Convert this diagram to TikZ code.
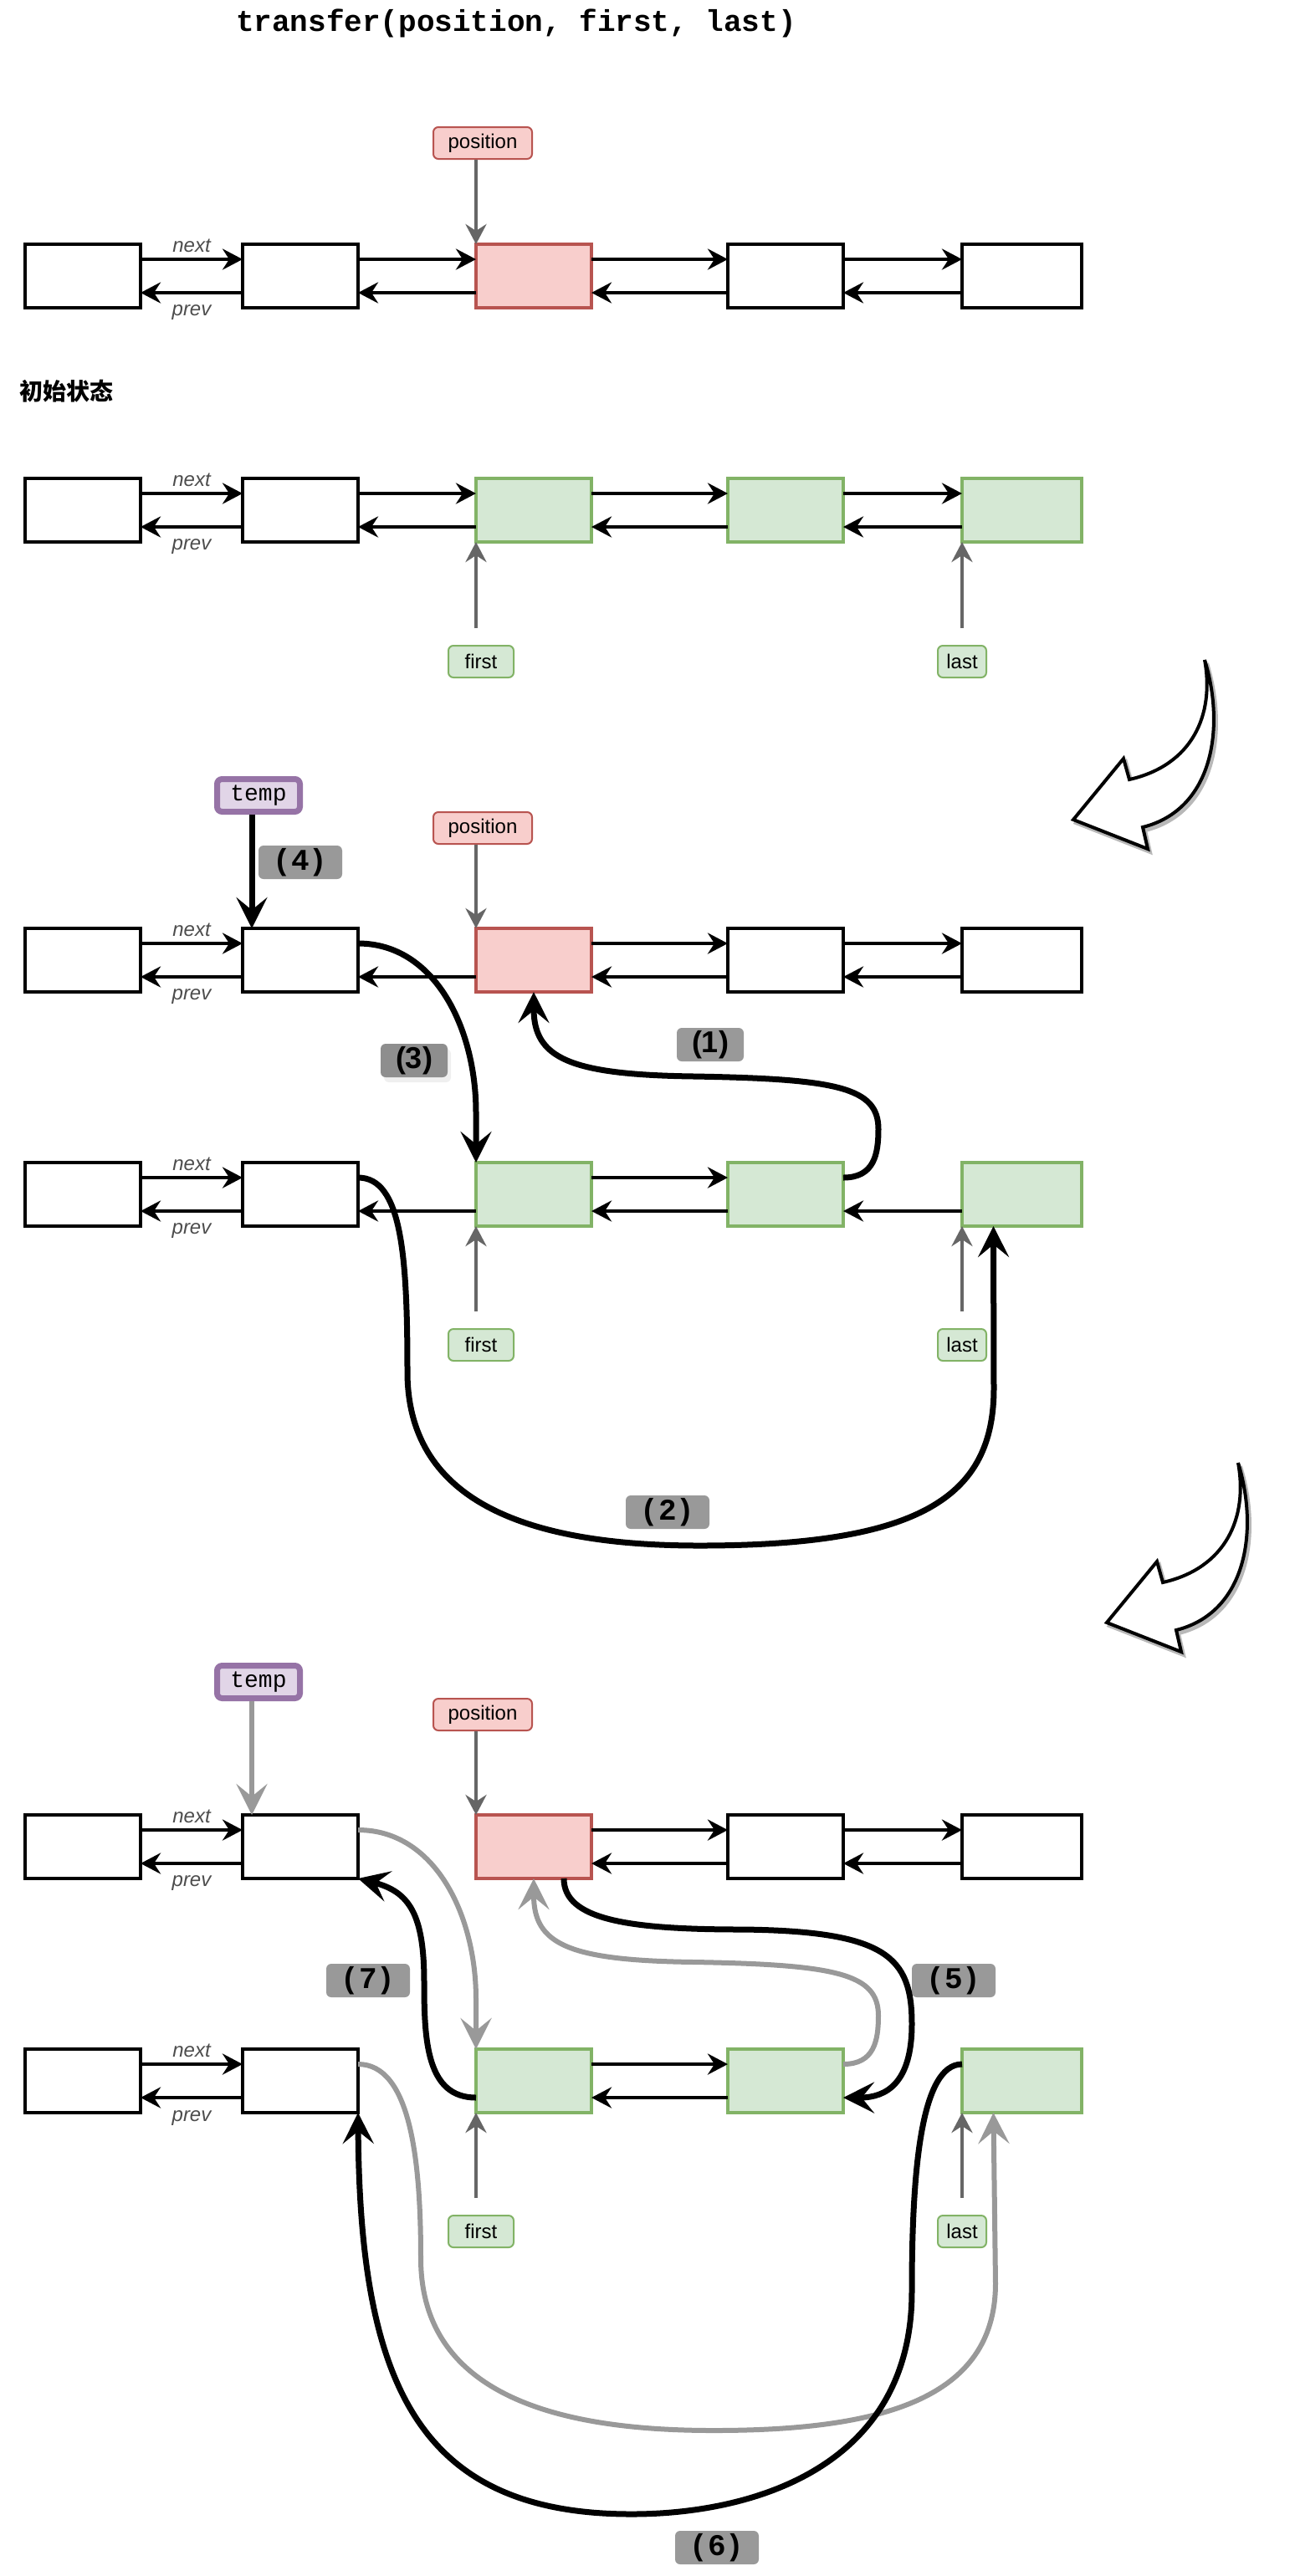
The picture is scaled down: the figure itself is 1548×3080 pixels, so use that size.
\documentclass[tikz,border=0pt]{standalone}
\usepackage{fontspec}
\setmainfont{Liberation Sans}
\setmonofont{Liberation Mono}
\newfontfamily\cjk{Noto Sans CJK SC}
\usetikzlibrary{arrows.meta,positioning,shadows}
\definecolor{posfill}{HTML}{F8CECC}
\definecolor{posline}{HTML}{B85450}
\definecolor{selfill}{HTML}{D5E8D4}
\definecolor{selline}{HTML}{82B366}
\definecolor{tmpfill}{HTML}{E1D5E7}
\definecolor{tmpline}{HTML}{9673A6}
\definecolor{ptrgray}{HTML}{666666}
\definecolor{oldgray}{HTML}{999999}
\definecolor{tagfill}{HTML}{999999}
\definecolor{tagdark}{HTML}{8E8E8E}
\definecolor{txtgray}{HTML}{4D4D4D}

\begin{document}
\begin{tikzpicture}[x=0.5pt,y=-0.5pt]
\tikzstyle{every node}=[font=\fontsize{12}{14}\selectfont]
\tikzstyle{cell}=[rectangle, draw=black, line width=2pt, fill=white, minimum width=69pt, minimum height=38pt, inner sep=0pt, outer sep=0pt]
\tikzstyle{poscell}=[fill=posfill, draw=posline]
\tikzstyle{selcell}=[fill=selfill, draw=selline]
\tikzstyle{lastcell}=[minimum width=71.5pt]
\tikzstyle{link}=[line width=2pt, -{Stealth[length=12pt, width=12.5pt, inset=4pt]}]
\tikzstyle{ptr}=[link, draw=ptrgray]
\tikzstyle{linktxt}=[font=\itshape\fontsize{12}{14}\selectfont, text=txtgray, inner sep=0pt]
\tikzstyle{poslbl}=[rectangle, rounded corners=3pt, draw=posline, fill=posfill, line width=1pt, minimum width=59pt, minimum height=19pt, inner sep=0pt]
\tikzstyle{sellbl}=[poslbl, draw=selline, fill=selfill]
\tikzstyle{tmplbl}=[rectangle, rounded corners=3pt, draw=tmpline, fill=tmpfill, line width=3.5pt, minimum width=49.5pt, minimum height=19.5pt, inner sep=0pt, font=\ttfamily\fontsize{14}{16}\selectfont]
\tikzstyle{steplbl}=[rectangle, rounded corners=3pt, fill=tagfill, minimum width=50pt, minimum height=20pt, inner sep=0pt, font=\ttfamily\bfseries\fontsize{18}{20}\selectfont]
\tikzstyle{sanstag}=[minimum width=40pt, font=\bfseries\fontsize{18}{20}\selectfont]
\tikzstyle{move}=[line width=3.5pt, -{Stealth[length=18.5pt, width=18.5pt, inset=7.5pt]}]
\tikzstyle{oldmove}=[move, draw=oldgray, line width=3pt]
\tikzstyle{curly}=[draw=black, fill=white, line width=2pt, miter limit=4]
\tikzstyle{curlyshade}=[draw=black!28, fill=black!28, line width=2pt, miter limit=4]

\fill[white] (0,0) rectangle (1548,3080);
\useasboundingbox (0,0) rectangle (1548,3080);

\node[font=\ttfamily\bfseries\fontsize{18}{20}\selectfont] (title) at (617,28) {transfer(position, first, last)};
\node[anchor=west, font=\cjk\bfseries\fontsize{14}{16}\selectfont] (init) at (16,468) {初始状态};

% list cells
\foreach \r/\y in {a/330,c/1148,e/2208} {
  \node[cell] (\r1) at (99,\y) {};
  \node[cell] (\r2) at (359,\y) {};
  \node[cell, poscell] (\r3) at (638,\y) {};
  \node[cell] (\r4) at (939,\y) {};
  \node[cell, lastcell] (\r5) at (1221.5,\y) {};
}
\foreach \r/\y in {b/610,d/1428,f/2488} {
  \node[cell] (\r1) at (99,\y) {};
  \node[cell] (\r2) at (359,\y) {};
  \node[cell, selcell] (\r3) at (638,\y) {};
  \node[cell, selcell] (\r4) at (939,\y) {};
  \node[cell, selcell, lastcell] (\r5) at (1221.5,\y) {};
}

% next / prev links
\foreach \r in {a,b,c,d,e,f} {
  \draw[link] ([yshift=10pt]\r1.east) -- node[linktxt, yshift=8pt] (nx\r) {next} ([yshift=10pt]\r2.west);
  \draw[link] ([yshift=-10pt]\r2.west) -- node[linktxt, yshift=-12pt] (pv\r) {prev} ([yshift=-10pt]\r1.east);
}
\foreach \r/\i/\j in {a/2/3,a/3/4,a/4/5,b/2/3,b/3/4,b/4/5,c/3/4,c/4/5,d/3/4,e/3/4,e/4/5,f/3/4} {
  \draw[link] ([yshift=10pt]\r\i.east) -- ([yshift=10pt]\r\j.west);
  \draw[link] ([yshift=-10pt]\r\j.west) -- ([yshift=-10pt]\r\i.east);
}
\foreach \r/\i/\j in {c/2/3,d/2/3,d/4/5} {
  \draw[link] ([yshift=-10pt]\r\j.west) -- ([yshift=-10pt]\r\i.east);
}

% iterators
\node[poslbl] (posA) at (577,171) {position};
\node[poslbl] (posC) at (577,990) {position};
\node[poslbl] (posE) at (577,2050) {position};
\foreach \r/\y in {B/791,D/1608,F/2668} {
  \node[sellbl, minimum width=39pt] (fst\r) at (575,\y) {first};
  \node[sellbl, minimum width=29pt] (lst\r) at (1150,\y) {last};
  \coordinate (f\r) at ([yshift=10pt]fst\r.north);
  \coordinate (l\r) at ([yshift=10pt]lst\r.north);
}
\draw[ptr] (posA.south -| a3.west) -- (a3.north west);
\draw[ptr] (posC.south -| c3.west) -- (c3.north west);
\draw[ptr] (posE.south -| e3.west) -- (e3.north west);
\draw[ptr] (fB -| b3.west) -- (b3.south west);
\draw[ptr] (lB -| b5.west) -- (b5.south west);
\draw[ptr] (fD -| d3.west) -- (d3.south west);
\draw[ptr] (lD -| d5.west) -- (d5.south west);
\draw[ptr] (fF -| f3.west) -- (f3.south west);
\draw[ptr] (lF -| f5.west) -- (f5.south west);

\node[tmplbl] (tmpC) at (309,951) {temp};
\node[tmplbl] (tmpE) at (309,2011) {temp};
\coordinate (tC) at ([xshift=-4pt]tmpC.south);
\coordinate (tE) at ([xshift=-4pt]tmpE.south);

% step tags
\node[steplbl] (s4) at (359,1031) {(4)};
\node[steplbl, sanstag, fill=tagdark, drop shadow={shadow xshift=2pt, shadow yshift=-3pt, fill=black!12}] (s3) at (495,1268) {(3)};
\node[steplbl, sanstag] (s1) at (849,1249) {(1)};
\node[steplbl] (s2) at (798,1808) {(2)};
\node[steplbl] (s7) at (440,2368) {(7)};
\node[steplbl] (s5) at (1140,2368) {(5)};
\node[steplbl] (s6) at (857,3046) {(6)};

% splice, first round
\draw[move] (tC) -- (tC |- c2.north);
\draw[move] ([yshift=10pt]c2.east) .. controls (520,1128) and (569,1230) .. (569,1330) -- (d3.north west);
\draw[move] ([yshift=10pt]d4.east) .. controls (1045,1408) and (1050,1380) .. (1050,1350) .. controls (1050,1300) and (1000,1290) .. (830,1287) .. controls (680,1285) and (638,1265) .. (c3.south);
\draw[move] ([yshift=10pt]d2.east) .. controls (480,1408) and (487,1500) .. (487,1640) .. controls (487,1790) and (620,1848) .. (836,1848) .. controls (1100,1848) and (1188,1790) .. (1188,1660) -- ([xshift=-17pt]d5.south);

% splice, second round
\draw[oldmove] (tE) -- (tE |- e2.north);
\draw[oldmove] ([yshift=10pt]e2.east) .. controls (520,2188) and (569,2290) .. (569,2390) -- (f3.north west);
\draw[oldmove] ([yshift=10pt]f4.east) .. controls (1045,2468) and (1050,2440) .. (1050,2410) .. controls (1050,2360) and (1000,2349) .. (830,2346) .. controls (680,2344) and (638,2325) .. (e3.south);
\draw[oldmove] ([yshift=10pt]f2.east) .. controls (490,2468) and (503,2580) .. (503,2700) .. controls (503,2870) and (680,2906) .. (853,2906) .. controls (1050,2906) and (1190,2870) .. (1190,2730) -- ([xshift=-17pt]f5.south);
\draw[move] ([yshift=-10pt]f3.west) .. controls (510,2508) and (507,2440) .. (507,2370) .. controls (507,2290) and (490,2262) .. (e2.south east);
\draw[move] ([xshift=18pt]e3.south) .. controls (674,2295) and (750,2307) .. (888,2307) .. controls (1060,2309) and (1090,2340) .. (1090,2420) .. controls (1090,2490) and (1060,2508) .. ([yshift=-10pt]f4.east);
\draw[move] ([yshift=10pt]f5.west) .. controls (1100,2468) and (1090,2600) .. (1090,2740) .. controls (1090,2950) and (900,3006) .. (755,3006) .. controls (500,3006) and (430,2850) .. (f2.south east);

% curved block arrows
\foreach \dx/\dy in {0/0,40/960} {
  \filldraw[curlyshade, shift={(\dx+3,\dy+4)}] (1440,789) .. controls (1465,870) and (1450,968) .. (1366,989) -- (1372,1015) -- (1283,980) -- (1343,907) -- (1350,932) .. controls (1425,915) and (1452,855) .. cycle;
  \filldraw[curly, shift={(\dx,\dy)}] (1440,789) .. controls (1465,870) and (1450,968) .. (1366,989) -- (1372,1015) -- (1283,980) -- (1343,907) -- (1350,932) .. controls (1425,915) and (1452,855) .. cycle;
}

\end{tikzpicture}
\end{document}
